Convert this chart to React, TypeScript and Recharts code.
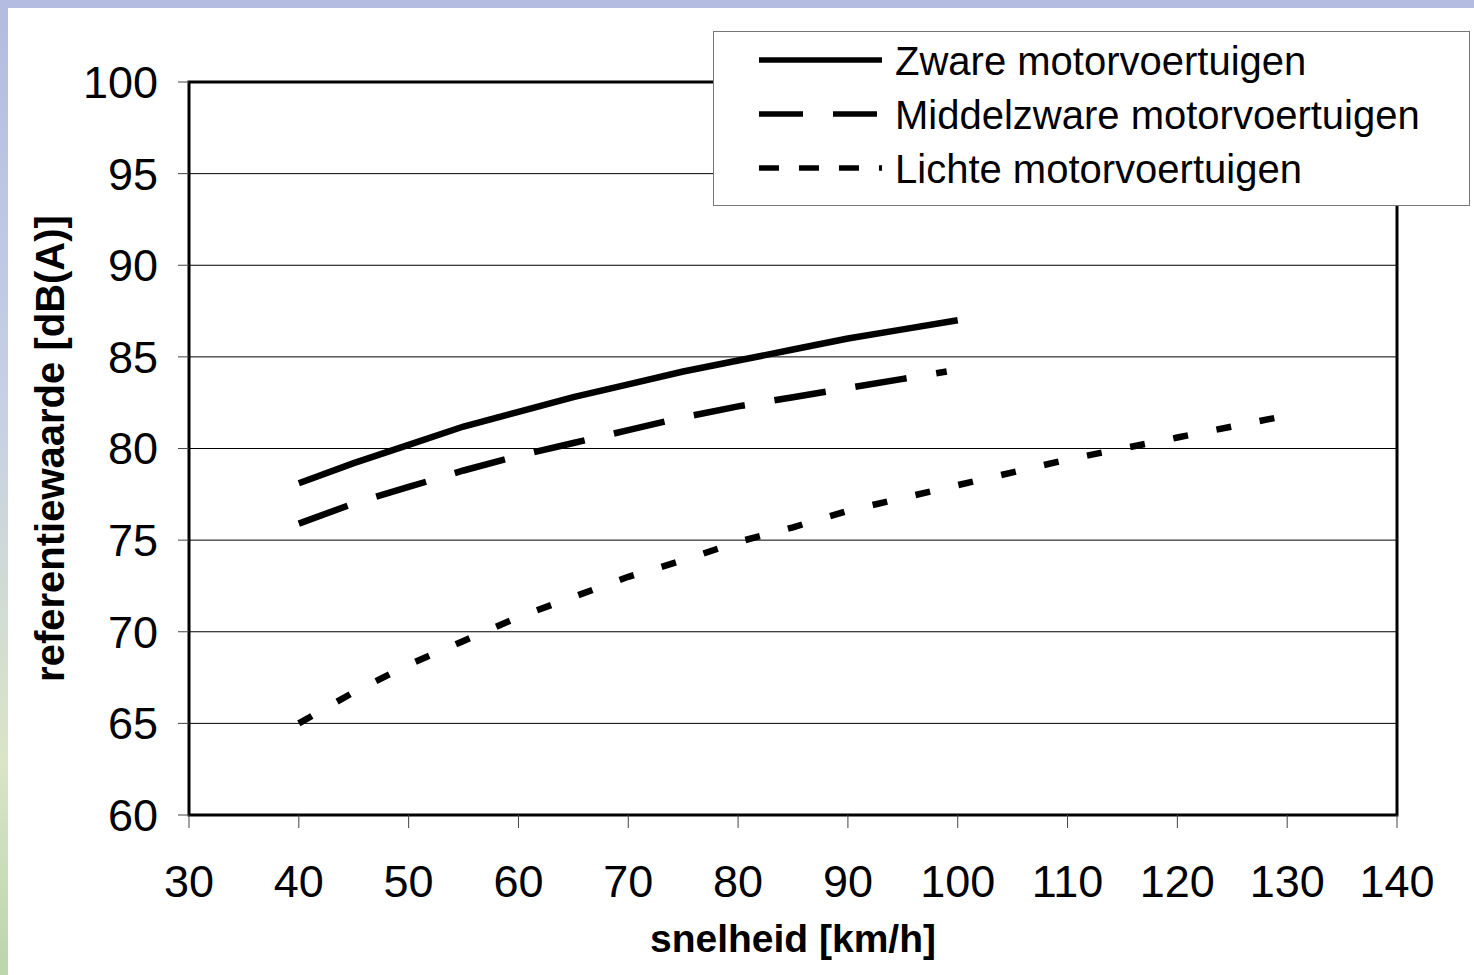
import React from "react";
import {
  CartesianGrid,
  Line,
  LineChart,
  ReferenceArea,
  XAxis,
  YAxis,
} from "recharts";

// speed [km/h] -> reference value [dB(A)]
const zwareSpeeds = [40, 45, 50, 55, 60, 65, 70, 75, 80, 85, 90, 95, 100];
const zwareValues = [78.1, 79.2, 80.2, 81.2, 82.0, 82.8, 83.5, 84.2, 84.8, 85.4, 86.0, 86.5, 87.0];

const middelSpeeds = [40, 45, 50, 55, 60, 65, 70, 75, 80, 85, 90, 95, 99];
const middelValues = [75.9, 77.0, 77.9, 78.8, 79.6, 80.3, 81.0, 81.7, 82.3, 82.8, 83.3, 83.8, 84.2];

const lichteSpeeds = [40, 45, 50, 55, 60, 65, 70, 75, 80, 85, 90, 95, 100, 105, 110, 115, 120, 125, 130];
const lichteValues = [65.0, 66.7, 68.2, 69.5, 70.8, 71.9, 73.0, 73.9, 74.9, 75.7, 76.6, 77.3, 78.0, 78.7, 79.4, 80.0, 80.6, 81.2, 81.8];

const xTicks = [30, 40, 50, 60, 70, 80, 90, 100, 110, 120, 130, 140];
const yTicks = [60, 65, 70, 75, 80, 85, 90, 95, 100];

const seriesNames = ["Zware motorvoertuigen", "Middelzware motorvoertuigen", "Lichte motorvoertuigen"];

const toRows = (xs: number[], ys: number[]) => xs.map((v, i) => ({ v, y: ys[i] }));

const FONT = '"Liberation Sans", Arial, sans-serif';

const YTitle = (props: any) => {
  const { viewBox } = props;
  const x = viewBox.x + 42;
  const y = viewBox.y + viewBox.height / 2;
  return (
    <text
      x={x}
      y={y}
      transform={`rotate(-90 ${x} ${y})`}
      textAnchor="middle"
      dominantBaseline="central"
      fontWeight="bold"
      fontSize={40}
      fill="#000"
    >
      referentiewaarde [dB(A)]
    </text>
  );
};

const XTitle = (props: any) => {
  const { viewBox } = props;
  return (
    <text
      x={viewBox.x + viewBox.width / 2}
      y={viewBox.y + 137}
      textAnchor="middle"
      fontWeight="bold"
      fontSize={39}
      fill="#000"
    >
      snelheid [km/h]
    </text>
  );
};

function LegendBox() {
  const rows = [
    { name: seriesNames[0], dash: undefined },
    { name: seriesNames[1], dash: "44 30" },
    { name: seriesNames[2], dash: "20 20" },
  ];
  return (
    <div
      style={{
        position: "absolute",
        left: 705,
        top: 23,
        width: 757,
        height: 175,
        boxSizing: "border-box",
        border: "1.5px solid #777",
        background: "#fff",
      }}
    >
      <svg width={754} height={172} style={{ display: "block", fontFamily: FONT }}>
        {rows.map((r, i) => (
          <g key={r.name}>
            <line
              x1={45}
              x2={168}
              y1={28 + i * 54}
              y2={28 + i * 54}
              stroke="#000"
              strokeWidth={5.5}
              strokeDasharray={r.dash}
            />
            <text x={181} y={43 + i * 54} fontSize={40} fill="#000">
              {r.name}
            </text>
          </g>
        ))}
      </svg>
    </div>
  );
}

export default function App() {
  return (
    <div
      style={{
        position: "absolute",
        left: 0,
        top: 0,
        width: 1474,
        height: 975,
        background: "linear-gradient(to bottom, #b3bce0 0%, #c6cfe6 40%, #d9e5c6 78%, #bbd5ad 100%)",
        fontFamily: FONT,
      }}
    >
      <div
        style={{
          position: "absolute",
          left: 8,
          top: 8,
          width: 1466,
          height: 967,
          background: "#fff",
        }}
      >
        <LineChart
          width={1466}
          height={967}
          margin={{ top: 74, right: 77, bottom: 0, left: 0 }}
          style={{ fontFamily: FONT }}
        >
          <CartesianGrid vertical={false} stroke="#000" strokeWidth={1} />
          <XAxis
            type="number"
            dataKey="v"
            domain={[30, 140]}
            ticks={xTicks}
            allowDataOverflow
            height={160}
            axisLine={false}
            tickLine={{ stroke: "#444", strokeWidth: 1 }}
            tickSize={13}
            tickMargin={37}
            tick={{ fill: "#000", fontSize: 45 }}
            interval={0}
            label={<XTitle />}
          />
          <YAxis
            type="number"
            domain={[60, 100]}
            ticks={yTicks}
            allowDataOverflow
            width={181}
            axisLine={false}
            tickLine={{ stroke: "#444", strokeWidth: 1 }}
            tickSize={11}
            tickMargin={20}
            tick={{ fill: "#000", fontSize: 45 }}
            interval={0}
            label={<YTitle />}
          />
          <ReferenceArea
            x1={30}
            x2={140}
            y1={60}
            y2={100}
            fill="none"
            stroke="#000"
            strokeWidth={3}
            ifOverflow="visible"
          />
          <Line
            data={toRows(zwareSpeeds, zwareValues)}
            dataKey="y"
            name={seriesNames[0]}
            type="linear"
            stroke="#000"
            strokeWidth={6.5}
            dot={false}
            isAnimationActive={false}
          />
          <Line
            data={toRows(middelSpeeds, middelValues)}
            dataKey="y"
            name={seriesNames[1]}
            type="linear"
            stroke="#000"
            strokeWidth={6.5}
            strokeDasharray="52 30"
            dot={false}
            isAnimationActive={false}
          />
          <Line
            data={toRows(lichteSpeeds, lichteValues)}
            dataKey="y"
            name={seriesNames[2]}
            type="linear"
            stroke="#000"
            strokeWidth={6.5}
            strokeDasharray="15 29"
            dot={false}
            isAnimationActive={false}
          />
        </LineChart>
        <LegendBox />
      </div>
    </div>
  );
}
